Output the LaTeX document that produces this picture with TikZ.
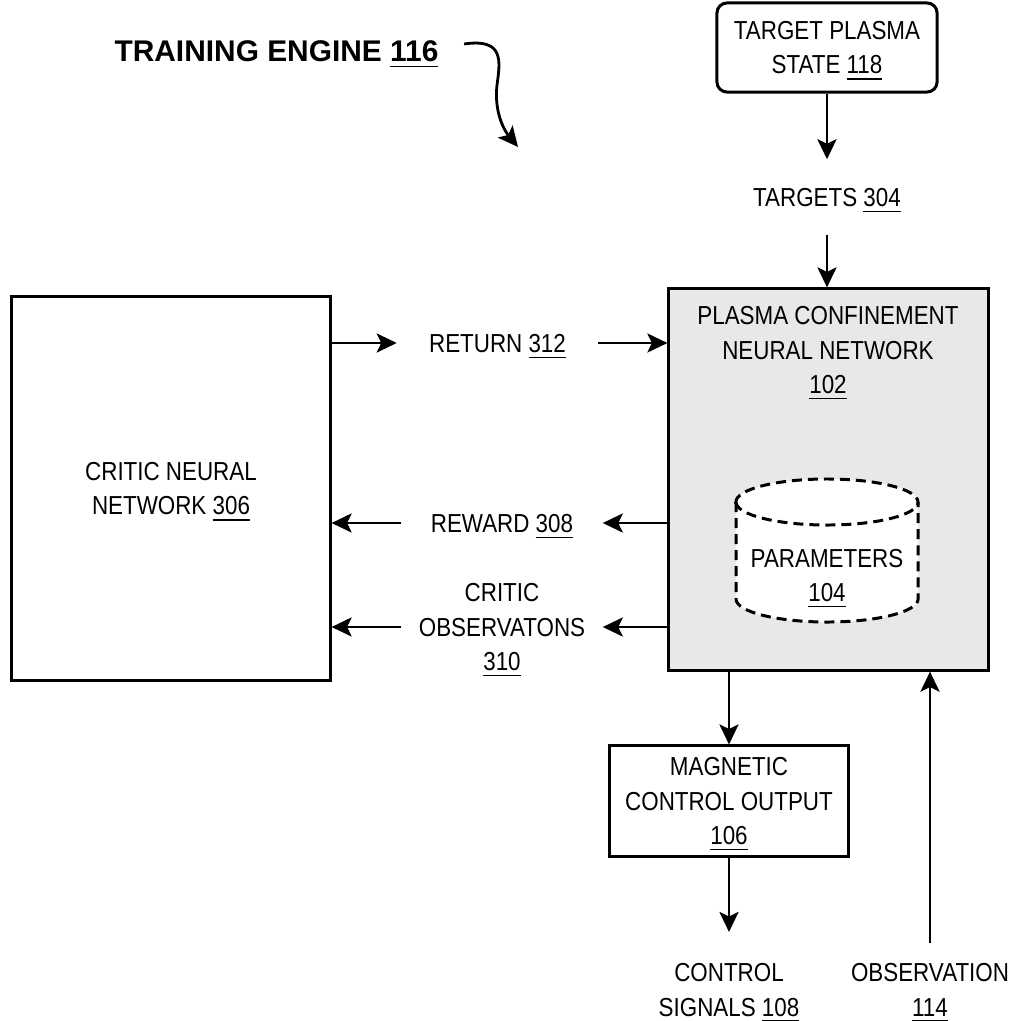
\documentclass[tikz,border=0pt]{standalone}
\usepackage{fontspec}
\setmainfont{Liberation Sans}[FakeStretch=0.86]
\newfontfamily\headfont{Liberation Sans}
\usepackage{tikz}
\usetikzlibrary{arrows.meta}
\definecolor{netgray}{rgb}{0.91,0.91,0.91}

\tikzset{
  every node/.append style={text depth=0pt},
  box/.style={draw, line width=0.85pt, align=center, inner sep=0pt},
  lbl/.style={align=center, inner sep=0pt, minimum width=2cm},
  arr/.style={line width=0.8pt, -{Stealth[length=0.2cm, width=0.19cm, inset=0.045cm]}},
}

\begin{document}
\begin{tikzpicture}[x=0.01cm, y=-0.01cm, font=\fontsize{7.4}{9.7}\selectfont]
  \useasboundingbox (0,0) rectangle (1016,1021);

  % title and its pointer
  \node[font=\headfont\bfseries\fontsize{8.5}{10}\selectfont, inner xsep=0.25cm] (title) at (276.5,51) {TRAINING ENGINE \underline{116}};
  \coordinate (engtip) at (518,147);
  \draw[arr] ([yshift=0.07cm]title.east) .. controls (505,38) and (500,62) .. (497,85)
    .. controls (494,112) and (504,130) .. (engtip);

  % the two networks
  \node[box, minimum width=3.18cm, minimum height=3.83cm] (critic) at (171,488.5) {CRITIC NEURAL\\NETWORK \underline{306}};
  \node[box, fill=netgray, minimum width=3.19cm, minimum height=3.81cm] (pcnn) at (828.5,479.5) {};
  \node[align=center, inner sep=0pt] (pcnntext) at (828,350) {PLASMA CONFINEMENT\\NEURAL NETWORK\\\underline{102}};

  % parameter store
  \draw[dashed, dash pattern=on 0.1cm off 0.06cm, line width=0.85pt, fill=white]
    (736,502) -- (736,599) arc[start angle=180, end angle=360, x radius=0.91cm, y radius=0.23cm]
    -- (918,502) arc[start angle=0, end angle=180, x radius=0.91cm, y radius=0.23cm] -- cycle;
  \draw[dashed, dash pattern=on 0.1cm off 0.06cm, line width=0.85pt]
    (736,502) arc[start angle=180, end angle=360, x radius=0.91cm, y radius=0.23cm];
  \node[align=center, inner sep=0pt] (params) at (827,575) {PARAMETERS\\\underline{104}};

  \node[box, rounded corners=0.1cm, minimum width=2.2cm, minimum height=0.89cm] (tgt) at (827,47.5) {TARGET PLASMA\\STATE \underline{118}};
  \node[box, minimum width=2.38cm, minimum height=1.1cm] (mag) at (729,801) {MAGNETIC\\CONTROL OUTPUT\\\underline{106}};

  % signals
  \node[lbl, minimum height=0.74cm] (targets) at (827,197) {TARGETS \underline{304}};
  \node[lbl] (ret) at (497.5,343) {RETURN \underline{312}};
  \node[lbl] (rew) at (502,523) {REWARD \underline{308}};
  \node[lbl] (cobs) at (502,627) {CRITIC\\OBSERVATONS\\\underline{310}};
  \node[lbl, anchor=north, inner ysep=0.31cm] (ctrl) at (729,932) {CONTROL\\SIGNALS \underline{108}};
  \node[lbl, anchor=north, inner ysep=0.2cm] (obs) at (930,943) {OBSERVATION\\\underline{114}};

  \draw[arr] (tgt.south) -- (targets.north);
  \draw[arr] (targets.south) -- (targets.south |- pcnn.north);
  \draw[arr] (critic.east |- ret) -- (ret.west);
  \draw[arr] (ret.east) -- (pcnn.west |- ret);
  \foreach \sig in {rew, cobs} {
    \draw[arr] (pcnn.west |- \sig) -- (\sig.east);
    \draw[arr] (\sig.west) -- (critic.east |- \sig);
  }
  \draw[arr] (mag.north |- pcnn.south) -- (mag.north);
  \draw[arr] (mag.south) -- (ctrl.north);
  \draw[arr] (obs.north) -- (obs.north |- pcnn.south);
\end{tikzpicture}
\end{document}
